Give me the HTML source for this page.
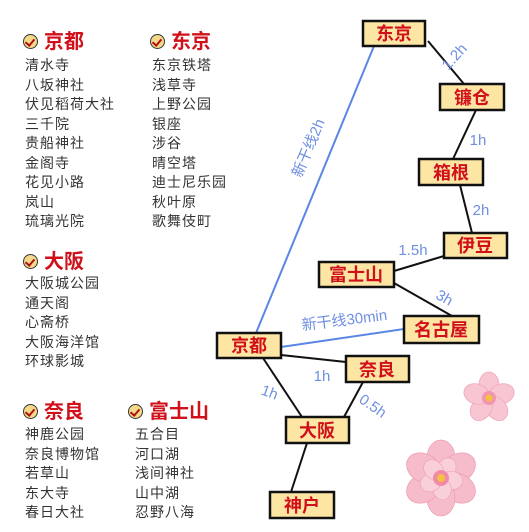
<!DOCTYPE html>
<html><head><meta charset="utf-8"><style>
body{margin:0;width:529px;height:532px;background:#fff;position:relative;overflow:hidden;font-family:"Liberation Sans","Noto Sans CJK SC",sans-serif}
.h{position:absolute;font-size:20px;font-weight:bold;color:#d0101a;letter-spacing:0px;line-height:20px}
.ic{position:absolute;width:13px;height:13px;border:1.5px solid #333;border-radius:50%;background:#f4d98a}
.ic:after{content:"";position:absolute;left:3px;top:1.5px;width:4px;height:7px;border-right:2.5px solid #b01010;border-bottom:2.5px solid #b01010;transform:rotate(40deg)}
.l{position:absolute;font-size:14px;color:#333;line-height:19.5px;letter-spacing:1px}
svg{position:absolute;left:0;top:0}
</style></head><body>
<div class="ic" style="left:23px;top:34px"></div><div class="h" style="left:44px;top:32px">京都</div>
<div class="l" style="left:25px;top:56px">清水寺<br>八坂神社<br>伏见稻荷大社<br>三千院<br>贵船神社<br>金阁寺<br>花见小路<br>岚山<br>琉璃光院</div>
<div class="ic" style="left:150px;top:34px"></div><div class="h" style="left:171px;top:32px">东京</div>
<div class="l" style="left:152px;top:56px">东京铁塔<br>浅草寺<br>上野公园<br>银座<br>涉谷<br>晴空塔<br>迪士尼乐园<br>秋叶原<br>歌舞伎町</div>
<div class="ic" style="left:23px;top:254px"></div><div class="h" style="left:44px;top:252px">大阪</div>
<div class="l" style="left:25px;top:274px">大阪城公园<br>通天阁<br>心斋桥<br>大阪海洋馆<br>环球影城</div>
<div class="ic" style="left:23px;top:404px"></div><div class="h" style="left:44px;top:402px">奈良</div>
<div class="l" style="left:25px;top:425px">神鹿公园<br>奈良博物馆<br>若草山<br>东大寺<br>春日大社</div>
<div class="ic" style="left:128px;top:404px"></div><div class="h" style="left:149px;top:402px">富士山</div>
<div class="l" style="left:135px;top:425px">五合目<br>河口湖<br>浅间神社<br>山中湖<br>忍野八海</div>
<svg width="529" height="532" font-family="Liberation Sans, Noto Sans CJK SC, sans-serif">
<g stroke="#5b86e5" stroke-width="2"><line x1="374" y1="46" x2="256" y2="333"/><line x1="281" y1="347" x2="404" y2="329"/></g>
<g stroke="#111" stroke-width="2">
<line x1="428" y1="41" x2="464" y2="84"/><line x1="476" y1="110" x2="453" y2="159"/><line x1="460" y1="185" x2="472" y2="233"/>
<line x1="444" y1="256" x2="394" y2="271"/><line x1="394" y1="283" x2="452" y2="316"/><line x1="281" y1="355" x2="346" y2="362"/>
<line x1="263" y1="358" x2="302" y2="417"/><line x1="363" y1="382" x2="344" y2="417"/><line x1="307" y1="443" x2="291" y2="492"/></g>
<g fill="#6f8fe0" font-size="15">
<text transform="translate(458,60) rotate(-48)" text-anchor="middle">1.2h</text>
<text x="478" y="145" text-anchor="middle">1h</text>
<text x="481" y="215" text-anchor="middle">2h</text>
<text x="413" y="255" text-anchor="middle">1.5h</text>
<text transform="translate(442,302) rotate(30)" text-anchor="middle">3h</text>
<text transform="translate(313,150) rotate(-67)" text-anchor="middle">新干线2h</text>
<text transform="translate(345,325) rotate(-7)" text-anchor="middle">新干线30min</text>
<text x="322" y="381" text-anchor="middle">1h</text>
<text transform="translate(268,397) rotate(20)" text-anchor="middle">1h</text>
<text transform="translate(370,410) rotate(35)" text-anchor="middle">0.5h</text></g>
<g fill="#fde5a4" stroke="#111" stroke-width="2.5">
<rect x="363" y="21" width="62" height="25"/><rect x="440" y="84" width="64" height="26"/><rect x="419" y="159" width="64" height="26"/>
<rect x="444" y="233" width="63" height="25"/><rect x="319" y="262" width="75" height="25"/><rect x="404" y="316" width="75" height="27"/>
<rect x="217" y="333" width="64" height="25"/><rect x="346" y="356" width="63" height="26"/><rect x="286" y="417" width="63" height="26"/>
<rect x="270" y="492" width="64" height="26"/></g>
<g fill="#d0101a" font-size="18" font-weight="bold" text-anchor="middle">
<text x="394" y="40">东京</text><text x="472" y="104">镰仓</text><text x="451" y="179">箱根</text><text x="475" y="252">伊豆</text>
<text x="356" y="281">富士山</text><text x="441" y="336">名古屋</text><text x="249" y="352">京都</text><text x="377" y="376">奈良</text>
<text x="317" y="437">大阪</text><text x="302" y="512">神户</text></g>
<g transform="translate(489,398)">
<g fill="#f7c6d2" stroke="#f0a8bb" stroke-width="0.8">
<ellipse cx="0" cy="-13" rx="10" ry="13"/><ellipse cx="0" cy="-13" rx="10" ry="13" transform="rotate(72)"/><ellipse cx="0" cy="-13" rx="10" ry="13" transform="rotate(144)"/><ellipse cx="0" cy="-13" rx="10" ry="13" transform="rotate(216)"/><ellipse cx="0" cy="-13" rx="10" ry="13" transform="rotate(288)"/></g>
<circle r="7" fill="#f295b0"/><circle r="3.5" fill="#f3c040"/></g>
<g transform="translate(441,478)">
<g fill="#f6bccb" stroke="#eea0b5" stroke-width="0.8">
<ellipse cx="0" cy="-20" rx="14" ry="18"/><ellipse cx="0" cy="-20" rx="14" ry="18" transform="rotate(60)"/><ellipse cx="0" cy="-20" rx="14" ry="18" transform="rotate(120)"/><ellipse cx="0" cy="-20" rx="14" ry="18" transform="rotate(180)"/><ellipse cx="0" cy="-20" rx="14" ry="18" transform="rotate(240)"/><ellipse cx="0" cy="-20" rx="14" ry="18" transform="rotate(300)"/></g>
<g fill="#f9d0da" stroke="#eea0b5" stroke-width="0.6">
<ellipse cx="0" cy="-11" rx="9" ry="11" transform="rotate(30)"/><ellipse cx="0" cy="-11" rx="9" ry="11" transform="rotate(102)"/><ellipse cx="0" cy="-11" rx="9" ry="11" transform="rotate(174)"/><ellipse cx="0" cy="-11" rx="9" ry="11" transform="rotate(246)"/><ellipse cx="0" cy="-11" rx="9" ry="11" transform="rotate(318)"/></g>
<circle r="8" fill="#f08aa8"/><circle r="4" fill="#f3c040"/></g>
</svg>
</body></html>
